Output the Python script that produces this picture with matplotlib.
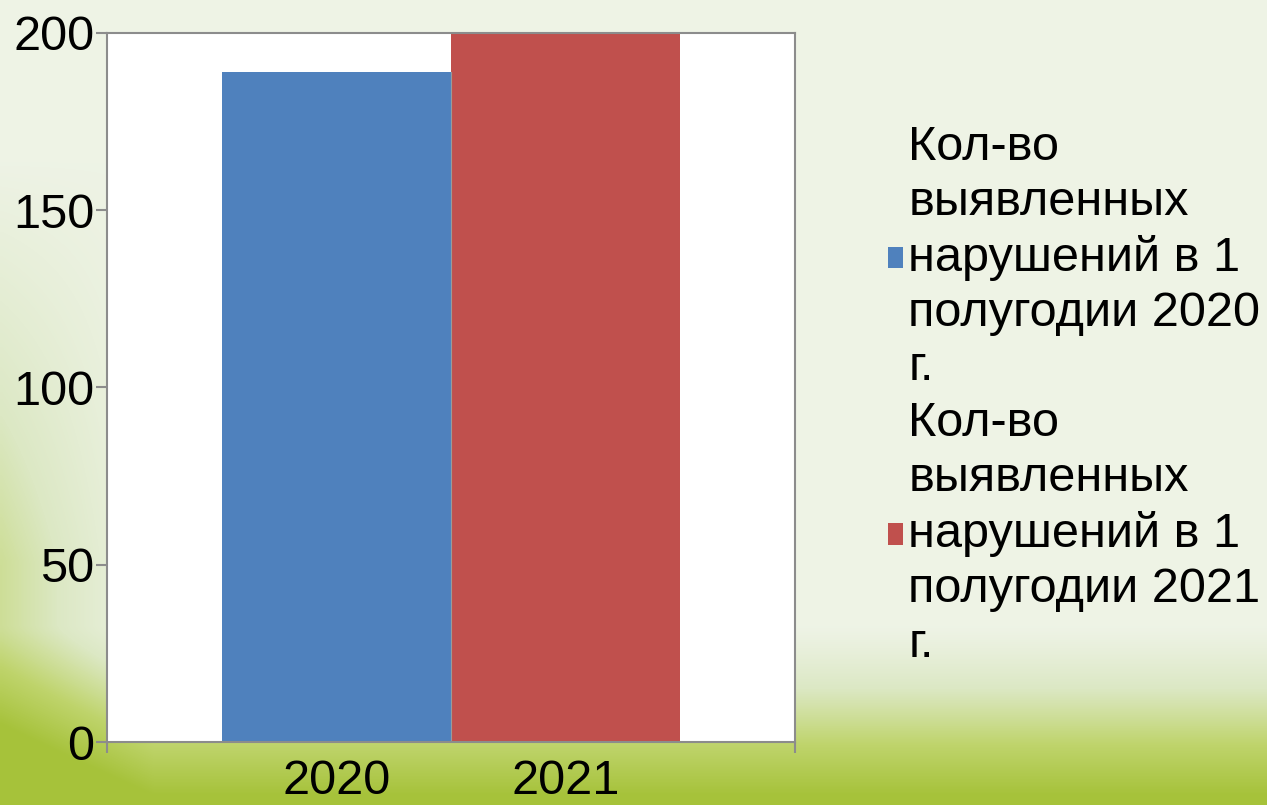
import numpy as np
import matplotlib.pyplot as plt
from matplotlib.colors import LinearSegmentedColormap
from matplotlib.patches import Patch

# --- Data ---
years = ["2020", "2021"]
values = [189, 200]
series_labels = [
    "Кол-во\nвыявленных\nнарушений в 1\nполугодии 2020\nг.",
    "Кол-во\nвыявленных\nнарушений в 1\nполугодии 2021\nг.",
]
colors = ["#4f81bd", "#c0504d"]

plt.rcParams["font.family"] = ["Liberation Sans", "DejaVu Sans"]

fig = plt.figure(figsize=(12.67, 8.05), dpi=100)

# --- Background (soft green slide gradient) ---
bg = fig.add_axes([0, 0, 1, 1], zorder=-10)
ny, nx = 200, 300
yy, xx = np.mgrid[0:1:ny * 1j, 0:1:nx * 1j]
t_bottom = np.clip((yy - 0.78) / 0.22, 0, 1) ** 1.2
t_left = np.clip((0.12 - xx) / 0.12, 0, 1) * np.clip((yy - 0.2) / 0.5, 0, 1) * 0.45
t = np.clip(t_bottom + t_left + 0.05, 0, 1)
cmap = LinearSegmentedColormap.from_list("bg", ["#f1f5eb", "#dce8c4", "#bfd46c", "#a6c23a"])
bg.imshow(t, cmap=cmap, aspect="auto", extent=[0, 1, 0, 1], origin="upper",
          vmin=0, vmax=1, interpolation="bilinear")
bg.set_axis_off()

# --- Chart ---
ax = fig.add_axes([107 / 1267, 63 / 805, 688 / 1267, 709 / 805])
ax.set_facecolor("white")
x = np.arange(len(years)) + 1
ax.bar(x, values, width=1.0, color=colors, edgecolor="none")
ax.axvline(1.5, ymax=min(values) / 200, color="#9a9a9a", linewidth=0.8)

ax.set_xlim(0, 3)
ax.set_ylim(0, 200)
ax.set_yticks([0, 50, 100, 150, 200])
ax.set_xticks(x)
ax.set_xticklabels(years)
ax.set_xticks([0, 3], minor=True)

for s in ax.spines.values():
    s.set_color("#8c8c8c")
    s.set_linewidth(1.5)

ax.tick_params(axis="y", labelsize=35, length=8, width=1.5, color="#8c8c8c", pad=1)
ax.tick_params(axis="x", which="major", labelsize=35, length=0, pad=12)
ax.tick_params(axis="x", which="minor", length=8, width=1.5, color="#8c8c8c")

handles = [Patch(facecolor=c, edgecolor="none") for c in colors]
leg = fig.legend(handles, series_labels, loc="upper left",
                 bbox_to_anchor=(888 / 1267, 1 - 125 / 805),
                 fontsize=35, frameon=False, borderpad=0, borderaxespad=0,
                 handlelength=0.3, handleheight=0.3, handletextpad=0.12,
                 labelspacing=0.22)
for txt in leg.get_texts():
    txt.set_linespacing(1.28)

plt.savefig("out.png", dpi=100)
